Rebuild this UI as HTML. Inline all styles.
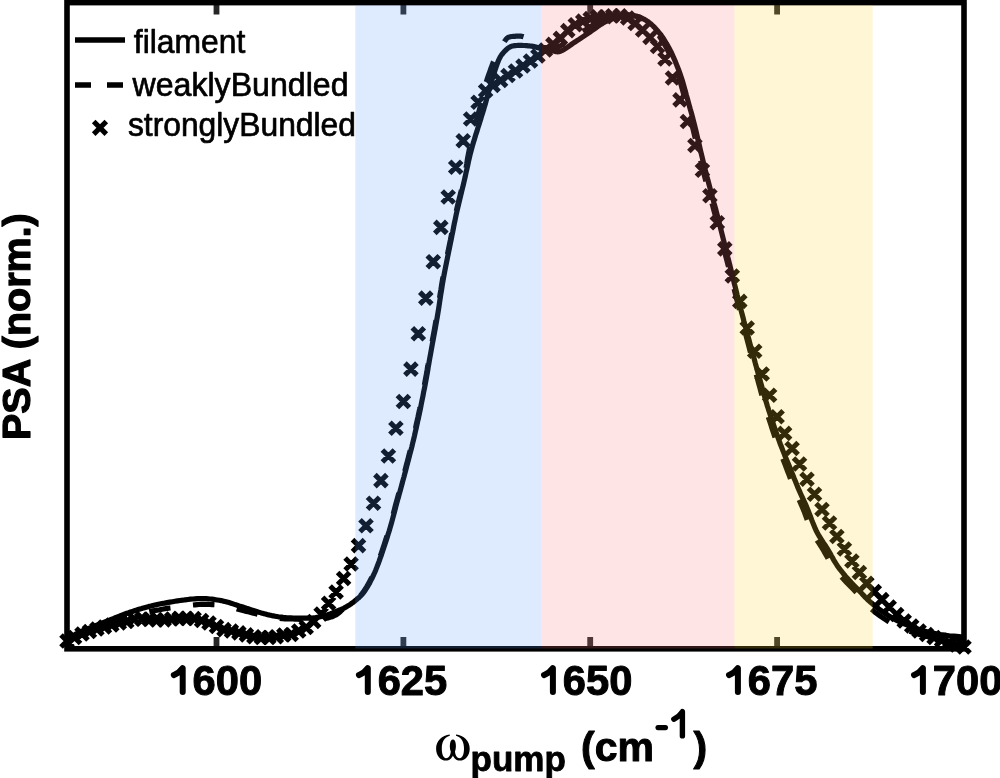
<!DOCTYPE html>
<html><head><meta charset="utf-8"><style>
html,body{margin:0;padding:0;background:#fff;}
body{width:1000px;height:778px;position:relative;overflow:hidden;font-family:"Liberation Sans",sans-serif;}
</style></head><body>
<svg width="1000" height="778" viewBox="0 0 1000 778" style="position:absolute;left:0;top:0;will-change:transform">
<rect x="0" y="0" width="1000" height="778" fill="#fff"/>
<path d="M216.5,637V649M216.5,3V14.4M403.4,637V649M403.4,3V14.4M590.2,637V649M590.2,3V14.4M777.1,637V649M777.1,3V14.4" stroke="#262626" stroke-width="5.8" fill="none"/>
<path d="M67.0,639.0 L68.0,638.5 L69.3,637.7 L70.8,636.8 L72.6,635.9 L74.4,634.9 L76.3,633.8 L78.2,632.9 L80.0,632.0 L81.8,631.2 L83.6,630.4 L85.5,629.7 L87.4,628.9 L89.3,628.2 L91.2,627.5 L93.1,626.7 L95.0,626.0 L96.9,625.2 L98.8,624.5 L100.6,623.8 L102.5,623.0 L104.4,622.2 L106.2,621.5 L108.1,620.8 L110.0,620.0 L111.9,619.2 L113.8,618.5 L115.6,617.7 L117.5,616.9 L119.4,616.2 L121.2,615.4 L123.1,614.7 L125.0,614.0 L126.9,613.3 L128.8,612.7 L130.6,612.0 L132.5,611.4 L134.4,610.8 L136.2,610.2 L138.1,609.6 L140.0,609.0 L141.8,608.5 L143.6,607.9 L145.4,607.4 L147.2,606.9 L149.0,606.4 L150.9,606.0 L152.9,605.5 L155.0,605.0 L157.3,604.5 L159.6,604.0 L162.1,603.5 L164.7,603.1 L167.3,602.6 L169.9,602.1 L172.5,601.7 L175.0,601.3 L177.5,600.9 L180.1,600.5 L182.7,600.2 L185.3,599.8 L187.9,599.5 L190.4,599.2 L192.7,599.0 L195.0,598.8 L197.1,598.7 L199.1,598.6 L201.0,598.6 L202.8,598.6 L204.6,598.6 L206.4,598.7 L208.2,598.8 L210.0,599.0 L211.9,599.2 L213.7,599.4 L215.6,599.7 L217.4,600.0 L219.3,600.3 L221.2,600.6 L223.1,601.1 L225.0,601.5 L227.0,602.0 L229.0,602.6 L231.0,603.2 L233.1,603.9 L235.1,604.6 L237.1,605.2 L239.1,605.9 L241.0,606.5 L242.9,607.1 L244.7,607.7 L246.5,608.3 L248.2,608.8 L250.0,609.4 L251.7,610.0 L253.4,610.5 L255.0,611.0 L256.6,611.5 L258.1,612.0 L259.6,612.4 L261.1,612.9 L262.5,613.3 L264.0,613.7 L265.5,614.1 L267.0,614.5 L268.6,614.9 L270.2,615.2 L271.8,615.6 L273.4,615.9 L275.1,616.2 L276.7,616.5 L278.4,616.8 L280.0,617.0 L281.6,617.2 L283.1,617.4 L284.6,617.5 L286.1,617.7 L287.7,617.8 L289.3,617.9 L291.1,617.9 L293.0,618.0 L295.1,618.1 L297.5,618.1 L299.9,618.2 L302.5,618.2 L305.1,618.2 L307.5,618.2 L309.9,618.1 L312.0,618.0 L313.9,617.8 L315.7,617.6 L317.4,617.3 L319.0,617.0 L320.5,616.7 L322.0,616.3 L323.5,615.9 L325.0,615.5 L326.5,615.1 L327.9,614.6 L329.3,614.1 L330.7,613.6 L332.0,613.1 L333.4,612.6 L334.7,612.0 L336.0,611.5 L337.3,611.0 L338.6,610.5 L339.8,609.9 L341.1,609.4 L342.3,608.9 L343.6,608.3 L344.8,607.7 L346.0,607.0 L347.2,606.3 L348.4,605.6 L349.6,604.8 L350.7,604.1 L351.9,603.2 L353.1,602.4 L354.2,601.5 L355.4,600.5 L356.6,599.5 L357.7,598.5 L358.9,597.6 L360.0,596.5 L361.2,595.4 L362.3,594.1 L363.5,592.6 L364.7,591.0 L365.9,589.1 L367.2,587.1 L368.5,584.9 L369.8,582.6 L371.0,580.2 L372.3,577.7 L373.5,575.1 L374.7,572.5 L375.8,569.9 L376.9,567.1 L378.0,564.3 L379.1,561.4 L380.1,558.4 L381.2,555.5 L382.2,552.5 L383.2,549.5 L384.2,546.5 L385.2,543.5 L386.2,540.4 L387.2,537.4 L388.1,534.3 L389.1,531.2 L390.0,528.1 L390.9,525.0 L391.8,521.9 L392.6,518.9 L393.4,515.9 L394.2,512.8 L395.0,509.8 L395.8,506.7 L396.6,503.6 L397.5,500.4 L398.4,497.2 L399.3,493.9 L400.2,490.7 L401.1,487.3 L402.0,484.0 L402.9,480.6 L403.9,477.1 L404.8,473.6 L405.8,470.0 L406.7,466.3 L407.7,462.6 L408.7,458.8 L409.7,454.9 L410.7,451.1 L411.7,447.3 L412.6,443.5 L413.5,439.8 L414.4,436.1 L415.2,432.4 L416.1,428.7 L416.9,424.9 L417.7,421.2 L418.6,417.3 L419.4,413.4 L420.3,409.3 L421.1,405.0 L422.0,400.6 L422.9,396.2 L423.7,391.8 L424.6,387.6 L425.3,383.7 L426.0,380.0 L426.6,376.8 L427.1,374.1 L427.5,371.7 L427.9,369.4 L428.2,367.1 L428.7,364.5 L429.2,361.5 L429.8,358.0 L430.6,353.8 L431.4,349.2 L432.3,344.2 L433.3,339.0 L434.3,333.6 L435.3,328.3 L436.2,323.0 L437.1,318.0 L437.9,313.2 L438.7,308.4 L439.4,303.6 L440.1,298.9 L440.8,294.2 L441.6,289.6 L442.3,284.9 L443.1,280.3 L443.9,275.7 L444.8,271.1 L445.7,266.6 L446.6,262.0 L447.5,257.5 L448.4,253.1 L449.3,248.7 L450.2,244.3 L451.1,240.0 L451.9,235.7 L452.8,231.5 L453.6,227.3 L454.4,223.1 L455.3,219.0 L456.1,215.0 L457.0,211.0 L457.9,207.1 L458.8,203.3 L459.7,199.6 L460.6,195.9 L461.5,192.2 L462.4,188.5 L463.3,184.8 L464.2,181.0 L465.1,177.2 L465.9,173.2 L466.8,169.3 L467.7,165.4 L468.5,161.4 L469.4,157.6 L470.3,153.7 L471.3,150.0 L472.3,146.3 L473.4,142.6 L474.5,138.9 L475.6,135.2 L476.8,131.7 L477.8,128.3 L478.9,125.0 L479.8,122.0 L480.7,119.2 L481.4,116.6 L482.2,114.2 L482.9,111.9 L483.6,109.7 L484.2,107.5 L484.9,105.4 L485.5,103.2 L486.1,101.0 L486.7,98.9 L487.3,96.8 L487.8,94.7 L488.4,92.7 L488.9,90.7 L489.4,88.7 L490.0,86.7 L490.6,84.7 L491.1,82.8 L491.7,80.9 L492.2,79.0 L492.8,77.1 L493.4,75.2 L494.0,73.4 L494.6,71.5 L495.2,69.6 L495.9,67.7 L496.5,65.8 L497.2,63.9 L497.9,62.0 L498.6,60.2 L499.4,58.6 L500.2,57.0 L501.1,55.5 L502.1,54.2 L503.2,52.9 L504.3,51.6 L505.4,50.5 L506.5,49.5 L507.6,48.6 L508.6,47.8 L509.5,47.2 L510.4,46.7 L511.2,46.4 L512.0,46.1 L512.8,46.0 L513.7,45.8 L514.6,45.7 L515.6,45.6 L516.7,45.5 L518.0,45.4 L519.3,45.4 L520.6,45.4 L522.0,45.4 L523.3,45.5 L524.6,45.5 L525.8,45.6 L526.9,45.7 L528.0,45.8 L529.1,45.9 L530.1,46.0 L531.1,46.1 L532.1,46.2 L533.0,46.4 L534.0,46.6 L534.9,46.8 L535.8,47.0 L536.6,47.3 L537.4,47.6 L538.3,47.8 L539.2,48.1 L540.2,48.4 L541.3,48.7 L542.6,49.0 L544.0,49.3 L545.5,49.6 L547.1,50.0 L548.7,50.3 L550.2,50.6 L551.7,50.8 L553.0,51.0 L554.1,51.2 L555.1,51.4 L556.0,51.6 L556.9,51.7 L557.7,51.8 L558.7,51.7 L559.7,51.4 L561.0,51.0 L562.5,50.3 L564.1,49.4 L565.8,48.3 L567.6,47.1 L569.4,45.8 L571.3,44.5 L573.2,43.2 L575.0,42.0 L576.8,40.8 L578.7,39.6 L580.6,38.3 L582.4,37.1 L584.3,35.8 L586.2,34.5 L588.1,33.3 L590.0,32.0 L591.9,30.7 L593.8,29.4 L595.6,28.1 L597.5,26.7 L599.4,25.4 L601.2,24.2 L603.1,23.0 L605.0,22.0 L606.9,21.1 L608.8,20.2 L610.6,19.4 L612.5,18.7 L614.4,18.0 L616.2,17.4 L618.1,16.9 L620.0,16.5 L621.9,16.2 L623.9,15.9 L625.9,15.8 L627.9,15.7 L629.9,15.7 L631.7,15.8 L633.5,15.9 L635.0,16.0 L636.3,16.2 L637.5,16.4 L638.5,16.7 L639.5,17.0 L640.4,17.4 L641.2,17.8 L642.1,18.2 L643.0,18.7 L643.9,19.2 L644.9,19.7 L645.8,20.2 L646.7,20.8 L647.6,21.4 L648.5,22.1 L649.4,22.8 L650.3,23.5 L651.2,24.3 L652.1,25.1 L653.0,25.9 L653.9,26.8 L654.8,27.7 L655.7,28.7 L656.6,29.7 L657.5,30.7 L658.4,31.8 L659.2,32.8 L660.1,33.9 L661.0,35.0 L661.8,36.2 L662.7,37.5 L663.6,38.8 L664.5,40.3 L665.4,41.8 L666.4,43.5 L667.4,45.1 L668.4,46.9 L669.4,48.8 L670.4,50.7 L671.5,52.8 L672.5,55.0 L673.5,57.4 L674.6,59.8 L675.7,62.5 L676.8,65.2 L677.9,68.0 L679.0,70.8 L680.0,73.7 L681.0,76.6 L682.0,79.5 L682.9,82.5 L683.8,85.6 L684.6,88.6 L685.5,91.8 L686.3,94.9 L687.2,97.9 L688.0,101.0 L688.8,103.9 L689.6,106.7 L690.3,109.3 L691.1,112.0 L691.9,114.8 L692.7,117.9 L693.5,121.2 L694.5,125.0 L695.6,129.3 L696.7,134.1 L697.9,139.3 L699.2,144.7 L700.4,150.1 L701.7,155.4 L702.9,160.4 L704.0,165.0 L705.0,169.2 L706.1,173.1 L707.0,176.9 L708.0,180.5 L708.9,184.0 L709.8,187.4 L710.7,190.7 L711.6,194.0 L712.4,197.2 L713.3,200.2 L714.0,203.1 L714.8,205.9 L715.6,208.7 L716.3,211.6 L717.1,214.7 L718.0,218.0 L718.9,221.5 L719.9,225.3 L720.8,229.1 L721.8,233.1 L722.8,237.1 L723.8,241.1 L724.8,245.1 L725.8,249.0 L726.8,252.9 L727.7,256.8 L728.7,260.7 L729.7,264.6 L730.6,268.4 L731.6,272.3 L732.5,276.2 L733.5,280.0 L734.4,283.8 L735.4,287.6 L736.3,291.3 L737.2,295.1 L738.2,298.8 L739.1,302.5 L740.0,306.3 L741.0,310.0 L742.0,313.7 L743.0,317.5 L743.9,321.2 L744.9,324.9 L745.9,328.7 L747.0,332.4 L748.0,336.2 L749.0,340.0 L750.0,343.8 L751.1,347.7 L752.1,351.5 L753.2,355.4 L754.3,359.3 L755.3,363.2 L756.4,367.1 L757.5,371.0 L758.6,375.1 L759.8,379.3 L761.0,383.6 L762.2,387.9 L763.4,392.1 L764.5,396.0 L765.5,399.7 L766.5,403.0 L767.3,405.8 L768.1,408.1 L768.7,410.2 L769.3,412.0 L769.9,413.8 L770.5,415.6 L771.2,417.6 L772.0,420.0 L772.9,422.7 L773.8,425.5 L774.8,428.5 L775.9,431.6 L777.0,434.7 L778.1,437.8 L779.2,441.0 L780.3,444.0 L781.5,447.0 L782.7,450.1 L783.9,453.1 L785.1,456.2 L786.4,459.2 L787.6,462.2 L788.8,465.1 L790.0,468.0 L791.1,470.8 L792.2,473.5 L793.3,476.1 L794.3,478.7 L795.4,481.3 L796.4,483.9 L797.4,486.4 L798.5,488.9 L799.6,491.4 L800.6,493.7 L801.7,496.1 L802.8,498.4 L803.9,500.8 L805.0,503.1 L806.1,505.6 L807.2,508.2 L808.3,510.9 L809.4,513.8 L810.6,516.8 L811.7,519.9 L812.9,522.9 L814.1,525.8 L815.3,528.7 L816.5,531.3 L817.8,533.7 L819.1,536.0 L820.5,538.2 L821.8,540.3 L823.2,542.4 L824.6,544.4 L826.0,546.5 L827.3,548.6 L828.6,550.8 L829.9,553.0 L831.1,555.3 L832.4,557.5 L833.6,559.8 L834.9,561.9 L836.2,564.0 L837.5,566.0 L838.8,567.9 L840.2,569.7 L841.6,571.4 L843.0,573.1 L844.3,574.8 L845.7,576.4 L847.1,577.9 L848.5,579.5 L849.9,581.0 L851.2,582.5 L852.6,584.0 L853.9,585.4 L855.3,586.8 L856.6,588.2 L858.0,589.6 L859.4,591.0 L860.8,592.4 L862.1,593.9 L863.5,595.3 L864.8,596.8 L866.2,598.2 L867.7,599.7 L869.3,601.1 L870.9,602.6 L872.7,604.1 L874.6,605.7 L876.6,607.2 L878.7,608.8 L880.8,610.3 L882.8,611.8 L884.8,613.2 L886.7,614.5 L888.5,615.7 L890.2,616.7 L891.8,617.7 L893.4,618.6 L895.0,619.5 L896.6,620.3 L898.3,621.2 L900.0,622.0 L901.8,622.8 L903.6,623.6 L905.5,624.4 L907.4,625.2 L909.3,625.9 L911.2,626.6 L913.1,627.3 L915.0,628.0 L916.9,628.6 L918.7,629.3 L920.5,629.9 L922.4,630.4 L924.2,631.0 L926.1,631.5 L928.0,632.0 L930.0,632.5 L932.0,633.0 L934.1,633.4 L936.2,633.8 L938.4,634.2 L940.5,634.6 L942.7,634.9 L944.9,635.2 L947.0,635.5 L949.2,635.8 L951.6,636.0 L954.1,636.2 L956.6,636.4 L958.9,636.6 L960.9,636.8 L962.7,636.9 L964.0,637.0" stroke="#000" stroke-width="5.2" fill="none" stroke-linejoin="round"/>
<path d="M67.0,640.0 L68.0,639.5 L69.3,638.8 L70.8,638.0 L72.6,637.1 L74.4,636.1 L76.3,635.2 L78.2,634.3 L80.0,633.5 L81.8,632.8 L83.6,632.1 L85.5,631.5 L87.4,630.9 L89.3,630.3 L91.2,629.7 L93.1,629.1 L95.0,628.5 L96.9,627.9 L98.8,627.2 L100.6,626.6 L102.5,626.0 L104.4,625.4 L106.2,624.8 L108.1,624.1 L110.0,623.5 L111.9,622.9 L113.8,622.2 L115.6,621.6 L117.5,621.0 L119.4,620.3 L121.2,619.7 L123.1,619.1 L125.0,618.5 L126.9,617.9 L128.8,617.3 L130.6,616.7 L132.5,616.2 L134.4,615.6 L136.2,615.0 L138.1,614.5 L140.0,614.0 L141.8,613.5 L143.6,613.0 L145.4,612.6 L147.2,612.2 L149.0,611.7 L150.9,611.3 L152.9,610.9 L155.0,610.5 L157.3,610.1 L159.6,609.7 L162.1,609.2 L164.7,608.8 L167.3,608.4 L169.9,608.0 L172.5,607.7 L175.0,607.3 L177.5,606.9 L180.1,606.6 L182.7,606.2 L185.3,605.9 L187.9,605.5 L190.4,605.3 L192.7,605.0 L195.0,604.8 L197.1,604.6 L199.1,604.5 L201.0,604.4 L202.8,604.4 L204.6,604.4 L206.4,604.4 L208.2,604.4 L210.0,604.5 L211.9,604.6 L213.7,604.7 L215.6,604.8 L217.4,605.0 L219.3,605.2 L221.2,605.4 L223.1,605.7 L225.0,606.0 L227.0,606.4 L229.0,606.8 L231.0,607.3 L233.1,607.9 L235.1,608.4 L237.1,609.0 L239.1,609.5 L241.0,610.0 L242.9,610.5 L244.7,610.9 L246.5,611.4 L248.2,611.8 L250.0,612.2 L251.7,612.7 L253.4,613.1 L255.0,613.5 L256.6,613.9 L258.1,614.3 L259.6,614.7 L261.1,615.1 L262.5,615.5 L264.0,615.8 L265.5,616.2 L267.0,616.5 L268.6,616.8 L270.2,617.1 L271.8,617.4 L273.4,617.7 L275.1,617.9 L276.7,618.1 L278.4,618.3 L280.0,618.5 L281.6,618.6 L283.1,618.7 L284.6,618.8 L286.1,618.8 L287.7,618.9 L289.3,618.9 L291.1,618.9 L293.0,619.0 L295.1,619.1 L297.5,619.2 L299.9,619.3 L302.5,619.3 L305.1,619.4 L307.5,619.5 L309.9,619.5 L312.0,619.5 L313.9,619.5 L315.7,619.4 L317.4,619.4 L319.0,619.3 L320.5,619.1 L322.0,619.0 L323.5,618.8 L325.0,618.5 L326.5,618.2 L327.9,617.9 L329.3,617.5 L330.7,617.1 L332.1,616.7 L333.4,616.1 L334.7,615.5 L336.0,614.9 L337.2,614.1 L338.4,613.2 L339.6,612.2 L340.8,611.1 L341.9,610.0 L343.0,609.0 L344.1,607.9 L345.3,607.0 L346.5,606.1 L347.6,605.3 L348.8,604.6 L350.0,603.9 L351.2,603.1 L352.4,602.3 L353.5,601.4 L354.7,600.5 L355.9,599.5 L357.0,598.5 L358.2,597.6 L359.3,596.5 L360.5,595.4 L361.6,594.1 L362.8,592.6 L364.0,591.0 L365.2,589.1 L366.5,587.1 L367.8,584.9 L369.1,582.6 L370.3,580.2 L371.6,577.7 L372.8,575.1 L374.0,572.5 L375.1,569.9 L376.2,567.1 L377.3,564.3 L378.4,561.4 L379.4,558.4 L380.5,555.5 L381.5,552.5 L382.5,549.5 L383.5,546.5 L384.5,543.5 L385.5,540.4 L386.5,537.4 L387.4,534.3 L388.4,531.2 L389.3,528.1 L390.2,525.0 L391.1,521.9 L391.9,518.9 L392.7,515.9 L393.5,512.8 L394.3,509.8 L395.1,506.7 L395.9,503.6 L396.8,500.4 L397.7,497.2 L398.6,493.9 L399.5,490.7 L400.4,487.3 L401.3,484.0 L402.2,480.6 L403.2,477.1 L404.1,473.6 L405.1,470.0 L406.0,466.3 L407.0,462.6 L408.0,458.8 L409.0,454.9 L410.0,451.1 L411.0,447.3 L411.9,443.5 L412.8,439.8 L413.7,436.1 L414.5,432.4 L415.4,428.7 L416.2,424.9 L417.0,421.2 L417.9,417.3 L418.7,413.4 L419.6,409.3 L420.4,405.0 L421.3,400.6 L422.2,396.2 L423.0,391.8 L423.9,387.6 L424.6,383.7 L425.3,380.0 L425.9,376.8 L426.4,374.1 L426.8,371.7 L427.2,369.4 L427.5,367.1 L428.0,364.5 L428.5,361.5 L429.1,358.0 L429.9,353.8 L430.7,349.2 L431.6,344.2 L432.6,339.0 L433.6,333.6 L434.6,328.3 L435.5,323.0 L436.4,318.0 L437.2,313.2 L438.0,308.4 L438.7,303.6 L439.4,298.9 L440.1,294.2 L440.9,289.6 L441.6,284.9 L442.4,280.3 L443.2,275.7 L444.1,271.1 L445.0,266.6 L445.9,262.0 L446.8,257.5 L447.7,253.1 L448.6,248.7 L449.5,244.3 L450.4,240.0 L451.2,235.7 L452.1,231.5 L452.9,227.3 L453.7,223.1 L454.6,219.0 L455.4,215.0 L456.3,211.0 L457.2,207.1 L458.1,203.4 L459.0,199.7 L459.9,196.1 L460.8,192.5 L461.7,188.8 L462.6,185.0 L463.5,181.0 L464.3,176.8 L465.2,172.4 L466.0,167.9 L466.8,163.4 L467.5,158.8 L468.3,154.4 L469.2,150.1 L470.0,146.0 L470.9,142.1 L471.8,138.3 L472.7,134.5 L473.6,130.9 L474.6,127.5 L475.5,124.1 L476.3,121.0 L477.1,118.0 L477.8,115.3 L478.5,112.8 L479.2,110.4 L479.8,108.2 L480.3,106.2 L480.9,104.1 L481.5,102.1 L482.0,100.0 L482.5,97.9 L482.9,96.0 L483.3,94.0 L483.7,92.1 L484.1,90.2 L484.6,88.2 L485.1,86.2 L485.7,84.0 L486.4,81.6 L487.2,79.1 L488.1,76.4 L489.0,73.8 L490.0,71.1 L490.9,68.5 L491.8,66.1 L492.6,64.0 L493.3,62.1 L494.1,60.4 L494.7,58.8 L495.4,57.3 L496.0,55.9 L496.7,54.6 L497.3,53.3 L498.0,52.0 L498.7,50.7 L499.4,49.5 L500.1,48.3 L500.8,47.1 L501.5,46.0 L502.2,44.9 L502.9,43.9 L503.5,43.0 L504.1,42.1 L504.6,41.3 L505.2,40.5 L505.7,39.8 L506.2,39.1 L506.7,38.5 L507.3,38.0 L508.0,37.5 L508.8,37.1 L509.6,36.9 L510.4,36.7 L511.3,36.5 L512.2,36.5 L513.1,36.4 L514.1,36.4 L515.0,36.3 L515.9,36.2 L516.9,36.2 L517.8,36.1 L518.8,36.1 L519.7,36.1 L520.7,36.2 L521.7,36.3 L522.6,36.5 L523.5,36.8 L524.5,37.1 L525.4,37.5 L526.3,38.0 L527.3,38.5 L528.2,39.0 L529.1,39.5 L530.0,40.0 L530.9,40.5 L531.8,41.1 L532.8,41.7 L533.7,42.3 L534.6,42.9 L535.4,43.5 L536.3,44.0 L537.0,44.5 L537.6,45.0 L538.1,45.4 L538.5,45.9 L538.9,46.3 L539.3,46.7 L539.8,47.0 L540.4,47.3 L541.3,47.5 L542.4,47.6 L543.8,47.7 L545.3,47.7 L546.9,47.7 L548.6,47.6 L550.2,47.5 L551.7,47.4 L553.0,47.2 L554.1,47.2 L555.1,47.1 L556.0,47.0 L556.9,46.9 L557.7,46.7 L558.7,46.5 L559.7,46.1 L561.0,45.5 L562.5,44.8 L564.1,43.8 L565.8,42.8 L567.6,41.6 L569.4,40.4 L571.3,39.1 L573.2,37.9 L575.0,36.7 L576.8,35.5 L578.7,34.3 L580.6,33.1 L582.4,31.8 L584.3,30.6 L586.2,29.3 L588.1,28.1 L590.0,26.9 L591.9,25.7 L593.8,24.4 L595.6,23.1 L597.5,21.9 L599.4,20.7 L601.2,19.5 L603.1,18.5 L605.0,17.6 L606.9,16.9 L608.8,16.2 L610.6,15.6 L612.5,15.1 L614.4,14.7 L616.2,14.4 L618.1,14.1 L620.0,14.0 L621.9,14.0 L623.9,14.1 L626.0,14.3 L628.0,14.6 L629.9,15.0 L631.8,15.3 L633.5,15.7 L635.0,16.0 L636.3,16.3 L637.4,16.6 L638.3,16.9 L639.1,17.2 L639.9,17.5 L640.6,17.9 L641.4,18.3 L642.2,18.7 L643.1,19.2 L643.9,19.7 L644.7,20.2 L645.5,20.8 L646.3,21.4 L647.1,22.1 L648.0,22.8 L648.8,23.5 L649.6,24.3 L650.4,25.1 L651.2,25.9 L652.0,26.8 L652.8,27.7 L653.6,28.7 L654.4,29.7 L655.2,30.7 L656.1,31.8 L656.9,32.8 L657.7,33.9 L658.5,35.0 L659.4,36.2 L660.2,37.5 L661.1,38.8 L662.0,40.3 L662.9,41.8 L663.9,43.5 L664.9,45.1 L665.9,46.9 L666.9,48.8 L667.9,50.7 L669.0,52.8 L670.0,55.0 L671.0,57.4 L672.1,59.8 L673.2,62.5 L674.3,65.2 L675.4,68.0 L676.5,70.8 L677.5,73.7 L678.5,76.6 L679.5,79.5 L680.4,82.5 L681.3,85.6 L682.1,88.6 L683.0,91.8 L683.8,94.9 L684.7,97.9 L685.5,101.0 L686.3,103.9 L687.1,106.7 L687.8,109.3 L688.6,112.0 L689.4,114.8 L690.2,117.9 L691.0,121.2 L692.0,125.0 L693.1,129.3 L694.2,134.1 L695.5,139.3 L696.7,144.7 L698.0,150.1 L699.3,155.4 L700.5,160.4 L701.6,165.0 L702.7,169.2 L703.7,173.1 L704.7,176.9 L705.7,180.5 L706.6,184.0 L707.6,187.4 L708.5,190.7 L709.4,194.0 L710.3,197.2 L711.1,200.2 L711.9,203.1 L712.7,205.9 L713.4,208.7 L714.2,211.6 L715.1,214.7 L716.0,218.0 L716.9,221.5 L717.9,225.3 L718.8,229.1 L719.9,233.1 L720.9,237.1 L721.9,241.1 L722.9,245.1 L723.9,249.0 L724.9,252.9 L725.9,256.8 L726.9,260.7 L727.9,264.6 L728.9,268.4 L729.9,272.3 L730.9,276.2 L731.8,280.0 L732.8,283.8 L733.8,287.6 L734.7,291.3 L735.7,295.1 L736.6,298.8 L737.6,302.5 L738.5,306.3 L739.5,310.0 L740.4,313.7 L741.4,317.5 L742.3,321.2 L743.3,324.9 L744.2,328.7 L745.2,332.4 L746.2,336.2 L747.2,340.0 L748.2,343.8 L749.2,347.7 L750.2,351.5 L751.2,355.4 L752.2,359.3 L753.3,363.2 L754.3,367.1 L755.3,371.0 L756.4,375.1 L757.6,379.3 L758.7,383.6 L759.9,387.9 L761.0,392.1 L762.1,396.0 L763.1,399.7 L764.0,403.0 L764.8,405.8 L765.5,408.1 L766.1,410.2 L766.7,412.0 L767.3,413.8 L767.9,415.6 L768.5,417.6 L769.3,420.0 L770.2,422.7 L771.1,425.5 L772.0,428.5 L773.1,431.6 L774.1,434.7 L775.1,437.8 L776.2,441.0 L777.3,444.0 L778.4,447.0 L779.5,450.1 L780.7,453.1 L781.8,456.2 L783.0,459.2 L784.2,462.2 L785.3,465.1 L786.4,468.0 L787.4,470.8 L788.5,473.5 L789.5,476.1 L790.4,478.7 L791.4,481.3 L792.4,483.9 L793.4,486.4 L794.4,488.9 L795.4,491.4 L796.4,493.7 L797.5,496.1 L798.5,498.4 L799.6,500.8 L800.6,503.1 L801.7,505.6 L802.8,508.2 L803.9,510.9 L805.0,513.8 L806.1,516.8 L807.2,519.9 L808.3,522.9 L809.5,525.8 L810.7,528.7 L811.9,531.3 L813.1,533.7 L814.4,536.0 L815.7,538.2 L817.0,540.3 L818.4,542.4 L819.7,544.4 L821.1,546.5 L822.4,548.6 L823.7,550.8 L824.9,553.0 L826.2,555.3 L827.5,557.5 L828.7,559.8 L830.0,561.9 L831.3,564.0 L832.6,566.0 L834.0,567.9 L835.4,569.7 L836.8,571.4 L838.2,573.1 L839.6,574.8 L841.0,576.4 L842.4,577.9 L843.8,579.5 L845.2,581.0 L846.5,582.4 L847.8,583.7 L849.0,585.0 L850.4,586.3 L851.8,587.7 L853.3,589.3 L854.9,591.0 L856.7,592.9 L858.6,595.1 L860.5,597.4 L862.6,599.8 L864.7,602.2 L866.8,604.5 L868.9,606.6 L870.9,608.6 L872.9,610.4 L874.9,612.1 L877.0,613.6 L879.0,615.1 L881.0,616.5 L882.9,617.9 L884.8,619.1 L886.7,620.3 L888.5,621.5 L890.2,622.5 L891.8,623.4 L893.4,624.3 L895.0,625.1 L896.6,625.9 L898.3,626.7 L900.0,627.5 L901.8,628.3 L903.6,629.0 L905.5,629.8 L907.4,630.4 L909.3,631.1 L911.2,631.8 L913.1,632.4 L915.0,633.0 L916.9,633.6 L918.7,634.2 L920.5,634.7 L922.4,635.2 L924.2,635.7 L926.1,636.2 L928.0,636.6 L930.0,637.0 L932.0,637.3 L934.1,637.6 L936.2,637.9 L938.4,638.1 L940.5,638.3 L942.7,638.4 L944.9,638.6 L947.0,638.7 L949.2,638.8 L951.6,638.9 L954.1,638.9 L956.6,639.0 L958.9,639.0 L960.9,639.0 L962.7,639.0 L964.0,639.0" stroke="#000" stroke-width="5.2" fill="none" stroke-dasharray="21.5 22.71" stroke-dashoffset="1.18"/>
<path d="M61.0,635.0L73.0,647.0M61.0,647.0L73.0,635.0M68.5,631.5L80.5,643.5M68.5,643.5L80.5,631.5M76.0,628.0L88.0,640.0M76.0,640.0L88.0,628.0M83.4,625.5L95.4,637.5M83.4,637.5L95.4,625.5M90.9,623.0L102.9,635.0M90.9,635.0L102.9,623.0M98.4,621.0L110.4,633.0M98.4,633.0L110.4,621.0M105.8,619.0L117.8,631.0M105.8,631.0L117.8,619.0M113.3,617.0L125.3,629.0M113.3,629.0L125.3,617.0M120.8,615.5L132.8,627.5M120.8,627.5L132.8,615.5M128.3,613.0L140.3,625.0M128.3,625.0L140.3,613.0M135.8,613.0L147.8,625.0M135.8,625.0L147.8,613.0M143.2,613.4L155.2,625.4M143.2,625.4L155.2,613.4M150.7,613.9L162.7,625.9M150.7,625.9L162.7,613.9M158.2,613.9L170.2,625.9M158.2,625.9L170.2,613.9M165.7,613.0L177.7,625.0M165.7,625.0L177.7,613.0M173.1,612.4L185.1,624.4M173.1,624.4L185.1,612.4M180.6,612.4L192.6,624.4M180.6,624.4L192.6,612.4M188.1,612.5L200.1,624.5M188.1,624.5L200.1,612.5M195.6,614.5L207.6,626.5M195.6,626.5L207.6,614.5M203.0,617.0L215.0,629.0M203.0,629.0L215.0,617.0M210.5,620.5L222.5,632.5M210.5,632.5L222.5,620.5M218.0,623.6L230.0,635.6M218.0,635.6L230.0,623.6M225.4,625.0L237.4,637.0M225.4,637.0L237.4,625.0M232.9,626.9L244.9,638.9M232.9,638.9L244.9,626.9M240.4,628.9L252.4,640.9M240.4,640.9L252.4,628.9M247.9,630.8L259.9,642.8M247.9,642.8L259.9,630.8M255.4,631.5L267.4,643.5M255.4,643.5L267.4,631.5M262.8,631.5L274.8,643.5M262.8,643.5L274.8,631.5M270.3,630.8L282.3,642.8M270.3,642.8L282.3,630.8M277.8,629.0L289.8,641.0M277.8,641.0L289.8,629.0M285.2,628.5L297.2,640.5M285.2,640.5L297.2,628.5M292.7,625.0L304.7,637.0M292.7,637.0L304.7,625.0M300.2,621.5L312.2,633.5M300.2,633.5L312.2,621.5M307.7,615.5L319.7,627.5M307.7,627.5L319.7,615.5M315.1,608.0L327.1,620.0M315.1,620.0L327.1,608.0M322.6,597.3L334.6,609.3M322.6,609.3L334.6,597.3M330.1,586.0L342.1,598.0M330.1,598.0L342.1,586.0M337.6,572.5L349.6,584.5M337.6,584.5L349.6,572.5M345.1,558.0L357.1,570.0M345.1,570.0L357.1,558.0M352.5,539.6L364.5,551.6M352.5,551.6L364.5,539.6M360.0,519.8L372.0,531.8M360.0,531.8L372.0,519.8M367.5,497.2L379.5,509.2M367.5,509.2L379.5,497.2M374.9,474.6L386.9,486.6M374.9,486.6L386.9,474.6M382.4,450.0L394.4,462.0M382.4,462.0L394.4,450.0M389.9,422.3L401.9,434.3M389.9,434.3L401.9,422.3M397.4,395.5L409.4,407.5M397.4,407.5L409.4,395.5M404.9,363.1L416.9,375.1M404.9,375.1L416.9,363.1M412.3,327.8L424.3,339.8M412.3,339.8L424.3,327.8M419.8,292.1L431.8,304.1M419.8,304.1L431.8,292.1M427.3,255.7L439.3,267.7M427.3,267.7L439.3,255.7M434.8,221.4L446.8,233.4M434.8,233.4L446.8,221.4M442.2,191.0L454.2,203.0M442.2,203.0L454.2,191.0M449.7,161.3L461.7,173.3M449.7,173.3L461.7,161.3M457.2,134.8L469.2,146.8M457.2,146.8L469.2,134.8M464.6,113.0L476.6,125.0M464.6,125.0L476.6,113.0M472.1,96.3L484.1,108.3M472.1,108.3L484.1,96.3M479.6,84.7L491.6,96.7M479.6,96.7L491.6,84.7M487.1,79.5L499.1,91.5M487.1,91.5L499.1,79.5M494.6,74.5L506.6,86.5M494.6,86.5L506.6,74.5M502.0,69.5L514.0,81.5M502.0,81.5L514.0,69.5M509.5,65.0L521.5,77.0M509.5,77.0L521.5,65.0M517.0,60.0L529.0,72.0M517.0,72.0L529.0,60.0M524.5,55.0L536.5,67.0M524.5,67.0L536.5,55.0M531.9,50.0L543.9,62.0M531.9,62.0L543.9,50.0M539.4,44.0L551.4,56.0M539.4,56.0L551.4,44.0M546.9,38.4L558.9,50.4M546.9,50.4L558.9,38.4M554.4,32.4L566.4,44.4M554.4,44.4L566.4,32.4M561.8,24.6L573.8,36.6M561.8,36.6L573.8,24.6M569.3,18.7L581.3,30.7M569.3,30.7L581.3,18.7M576.8,15.1L588.8,27.1M576.8,27.1L588.8,15.1M584.2,12.6L596.2,24.6M584.2,24.6L596.2,12.6M591.7,10.8L603.7,22.8M591.7,22.8L603.7,10.8M599.2,10.8L611.2,22.8M599.2,22.8L611.2,10.8M606.7,9.8L618.7,21.8M606.7,21.8L618.7,9.8M614.1,9.8L626.1,21.8M614.1,21.8L626.1,9.8M621.6,12.0L633.6,24.0M621.6,24.0L633.6,12.0M629.1,17.5L641.1,29.5M629.1,29.5L641.1,17.5M636.6,24.0L648.6,36.0M636.6,36.0L648.6,24.0M644.0,31.5L656.0,43.5M644.0,43.5L656.0,31.5M651.5,40.5L663.5,52.5M651.5,52.5L663.5,40.5M659.0,53.0L671.0,65.0M659.0,65.0L671.0,53.0M666.5,72.0L678.5,84.0M666.5,84.0L678.5,72.0M674.0,93.9L686.0,105.9M674.0,105.9L686.0,93.9M681.4,115.5L693.4,127.5M681.4,127.5L693.4,115.5M688.9,139.5L700.9,151.5M688.9,151.5L700.9,139.5M696.4,164.2L708.4,176.2M696.4,176.2L708.4,164.2M703.9,189.8L715.9,201.8M703.9,201.8L715.9,189.8M711.3,216.7L723.3,228.7M711.3,228.7L723.3,216.7M718.8,242.9L730.8,254.9M718.8,254.9L730.8,242.9M726.3,270.0L738.3,282.0M726.3,282.0L738.3,270.0M733.8,295.4L745.8,307.4M733.8,307.4L745.8,295.4M741.2,322.0L753.2,334.0M741.2,334.0L753.2,322.0M748.7,345.3L760.7,357.3M748.7,357.3L760.7,345.3M756.2,368.0L768.2,380.0M756.2,380.0L768.2,368.0M763.6,389.2L775.6,401.2M763.6,401.2L775.6,389.2M771.1,410.8L783.1,422.8M771.1,422.8L783.1,410.8M778.6,427.4L790.6,439.4M778.6,439.4L790.6,427.4M786.1,442.5L798.1,454.5M786.1,454.5L798.1,442.5M793.5,458.0L805.5,470.0M793.5,470.0L805.5,458.0M801.0,473.2L813.0,485.2M801.0,485.2L813.0,473.2M808.5,488.3L820.5,500.3M808.5,500.3L820.5,488.3M816.0,503.5L828.0,515.5M816.0,515.5L828.0,503.5M823.5,517.0L835.5,529.0M823.5,529.0L835.5,517.0M830.9,530.5L842.9,542.5M830.9,542.5L842.9,530.5M838.4,543.0L850.4,555.0M838.4,555.0L850.4,543.0M845.9,555.0L857.9,567.0M845.9,567.0L857.9,555.0M853.4,566.5L865.4,578.5M853.4,578.5L865.4,566.5M860.8,577.4L872.8,589.4M860.8,589.4L872.8,577.4M868.3,585.5L880.3,597.5M868.3,597.5L880.3,585.5M875.8,593.6L887.8,605.6M875.8,605.6L887.8,593.6M883.2,601.0L895.2,613.0M883.2,613.0L895.2,601.0M890.7,608.5L902.7,620.5M890.7,620.5L902.7,608.5M898.2,615.0L910.2,627.0M898.2,627.0L910.2,615.0M905.7,620.0L917.7,632.0M905.7,632.0L917.7,620.0M913.1,625.0L925.1,637.0M913.1,637.0L925.1,625.0M920.6,628.5L932.6,640.5M920.6,640.5L932.6,628.5M928.1,631.5L940.1,643.5M928.1,643.5L940.1,631.5M935.6,634.3L947.6,646.3M935.6,646.3L947.6,634.3M943.0,636.5L955.0,648.5M943.0,648.5L955.0,636.5M950.5,639.0L962.5,651.0M950.5,651.0L962.5,639.0M958.0,641.0L970.0,653.0M958.0,653.0L970.0,641.0" stroke="#000" stroke-width="5.1" fill="none"/>
<rect x="67" y="2.6" width="897" height="646.2" fill="none" stroke="#000" stroke-width="5.6"/>
<rect x="355.3" y="5.2" width="186.2" height="643.3" fill="#5a96fa" fill-opacity="0.2"/>
<rect x="541.5" y="5.2" width="192.89999999999998" height="643.3" fill="#ff787e" fill-opacity="0.2"/>
<rect x="734.4" y="5.2" width="138.30000000000007" height="643.3" fill="#ffd232" fill-opacity="0.2"/>
<!-- legend -->
<path d="M75,40H125" stroke="#000" stroke-width="5.6"/>
<path d="M75,85H91M107,85H123" stroke="#000" stroke-width="5.6"/>
<path d="M93.7,121.5L106.3,134.1M93.7,134.1L106.3,121.5" stroke="#000" stroke-width="5.1"/>

<g fill="#000" stroke="#000" stroke-linejoin="round" font-family="Liberation Sans">
<text x="133.8" y="52.5" font-size="33" stroke-width="0.7" textLength="111.5" lengthAdjust="spacingAndGlyphs">filament</text>
<text x="132.5" y="95.5" font-size="33" stroke-width="0.7" textLength="216" lengthAdjust="spacingAndGlyphs">weaklyBundled</text>
<text x="127.9" y="135.6" font-size="33" stroke-width="0.7" textLength="228.1" lengthAdjust="spacingAndGlyphs">stronglyBundled</text>
<g font-size="41.7" font-weight="bold" stroke-width="1">
<path d="M173.8,675.1 C177.2,673.9 180.1,671.7 182.7,668.1 L182.7,692.1" stroke-width="6.0" stroke-linecap="round" stroke-linejoin="round" fill="none"/>
<text x="192.6" y="694.6">600</text>
<path d="M358.9,675.1 C362.3,673.9 365.2,671.7 367.8,668.1 L367.8,692.1" stroke-width="6.0" stroke-linecap="round" stroke-linejoin="round" fill="none"/>
<text x="377.7" y="694.6">625</text>
<path d="M544.0,675.1 C547.4,673.9 550.3,671.7 552.9,668.1 L552.9,692.1" stroke-width="6.0" stroke-linecap="round" stroke-linejoin="round" fill="none"/>
<text x="562.8" y="694.6">650</text>
<path d="M729.0,675.1 C732.4,673.9 735.3,671.7 737.9,668.1 L737.9,692.1" stroke-width="6.0" stroke-linecap="round" stroke-linejoin="round" fill="none"/>
<text x="747.8" y="694.6">675</text>
<path d="M914.0,675.1 C917.4,673.9 920.3,671.7 922.9,668.1 L922.9,692.1" stroke-width="6.0" stroke-linecap="round" stroke-linejoin="round" fill="none"/>
<text x="932.8" y="694.6">700</text>
</g>
<text transform="translate(29.5,437) rotate(-90)" x="-3" y="0" font-size="39.5" font-weight="bold" stroke-width="1.2">PSA (norm.)</text>
<path stroke="none" d="M449.8,734.6 C442,735.5 436.1,741 436.1,748.5 C436.1,756 440.5,760.6 446,760.6 C449.5,760.6 452,758 452.9,755.5 C453.8,758 456.3,760.6 459.8,760.6 C465.3,760.6 469.7,756 469.7,748.5 C469.7,741 463.8,735.5 456,734.6 L456,735.8 C461.5,737.2 464,742 464,748.5 C464,755 462,758.2 459.8,758.2 C457,758.2 455.2,755 455,751.5 C456.6,748 456.3,739.6 452.9,739.6 C449.5,739.6 449.2,748 450.8,751.5 C450.6,755 448.8,758.2 446,758.2 C443.8,758.2 441.8,755 441.8,748.5 C441.8,742 444.3,737.2 449.8,735.8 Z"/>
<text x="470.5" y="770.5" font-size="35" font-weight="bold" stroke-width="0.8">pump</text>
<text x="581" y="760.5" font-size="41" font-weight="bold" stroke-width="1">(cm</text>
<path d="M658,727.6H665.5" stroke-width="5.1" stroke-linecap="round"/><path d="M673.8,719.2 C677.2,717.6 680.2,715 682.4,711.6 L682.4,735.9" stroke-width="5.4" stroke-linecap="round" fill="none"/>
<text x="693.5" y="760.5" font-size="41" font-weight="bold" stroke-width="1">)</text>
</g>
</svg>
</body></html>
